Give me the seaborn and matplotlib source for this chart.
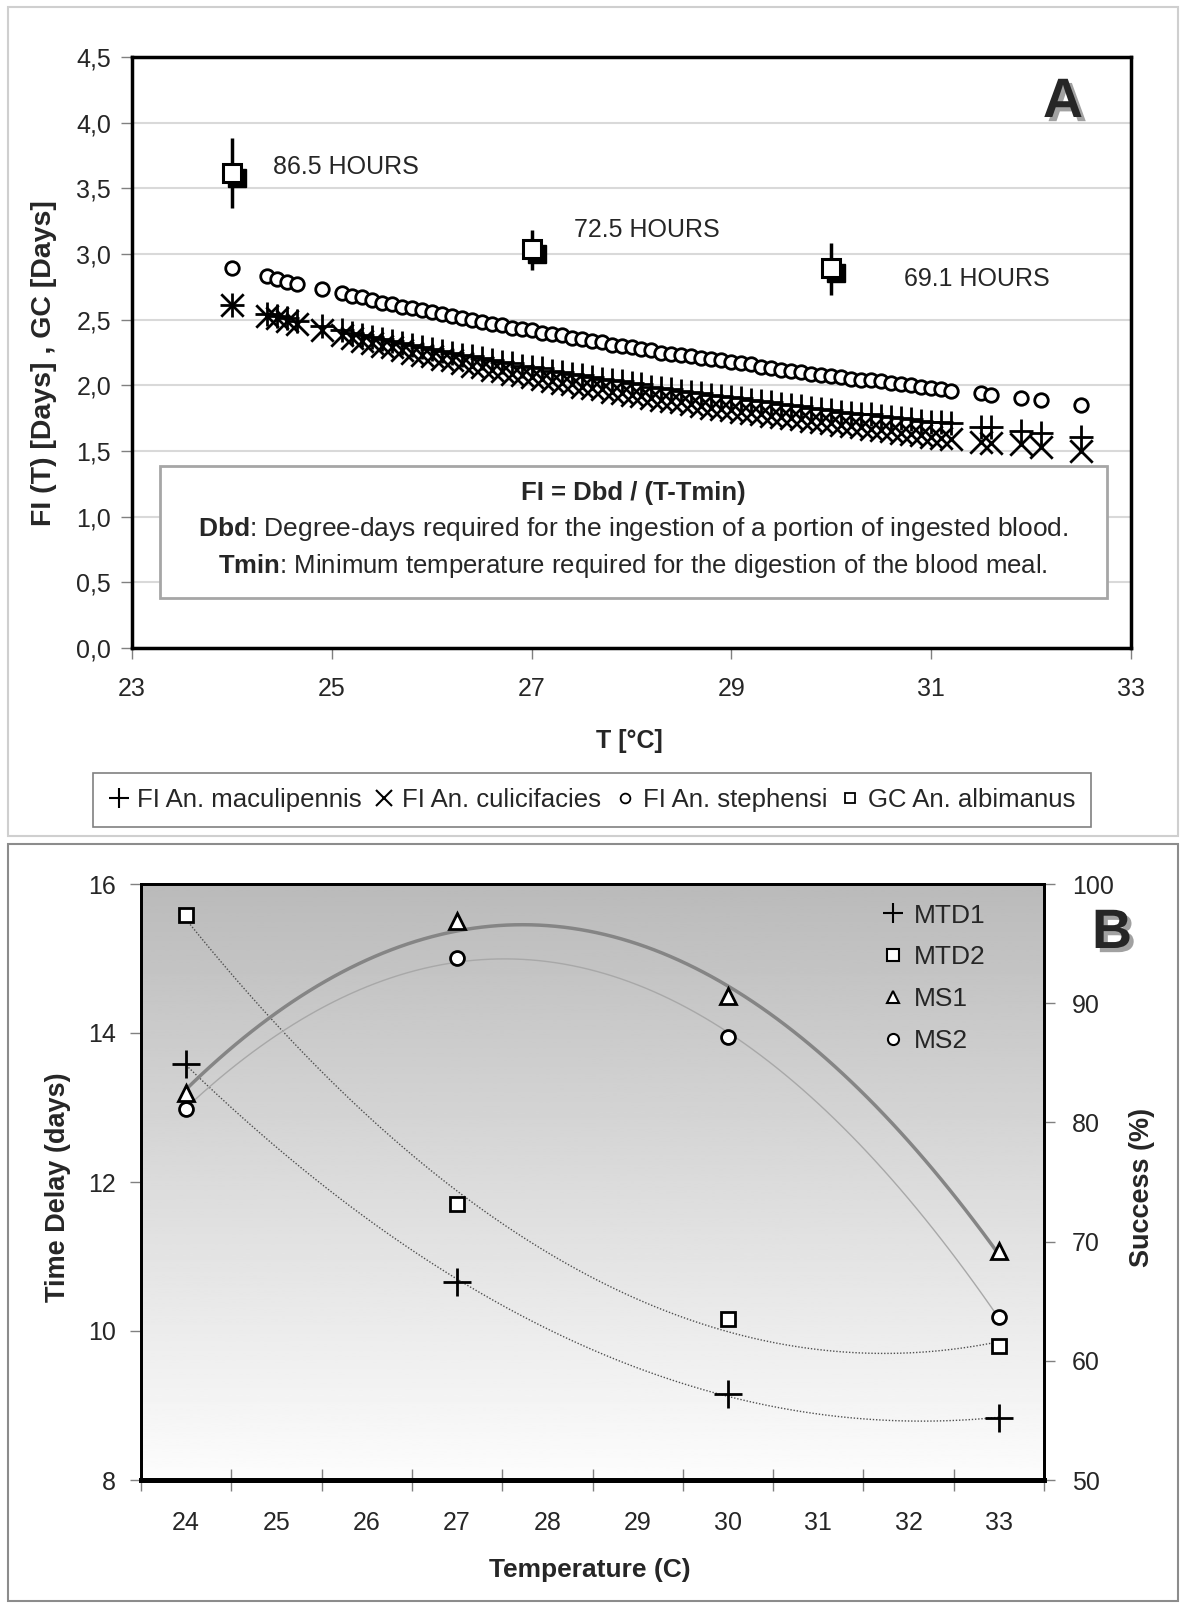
import numpy as np
import matplotlib
matplotlib.use("Agg")
import matplotlib.pyplot as plt
import matplotlib.patheffects as pe
import matplotlib.transforms as mtransforms
from matplotlib.lines import Line2D
from matplotlib.patches import Rectangle
import seaborn as sns

# ---- panel A : feeding interval FI(T) and gonotrophic cycle ----
temp_a = [24.0, 24.35, 24.45, 24.55, 24.65, 24.9,
          25.1, 25.2, 25.3, 25.4, 25.5, 25.6, 25.7, 25.8, 25.9, 26.0,
          26.1, 26.2, 26.3, 26.4, 26.5, 26.6, 26.7, 26.8, 26.9, 27.0,
          27.1, 27.2, 27.3, 27.4, 27.5, 27.6, 27.7, 27.8, 27.9, 28.0,
          28.1, 28.2, 28.3, 28.4, 28.5, 28.6, 28.7, 28.8, 28.9, 29.0,
          29.1, 29.2, 29.3, 29.4, 29.5, 29.6, 29.7, 29.8, 29.9, 30.0,
          30.1, 30.2, 30.3, 30.4, 30.5, 30.6, 30.7, 30.8, 30.9, 31.0,
          31.1, 31.2,
          31.5, 31.6, 31.9, 32.1, 32.5]

fi_stephensi = [2.89, 2.83, 2.81, 2.79, 2.77, 2.73,
                2.70, 2.68, 2.67, 2.65, 2.63, 2.62, 2.60, 2.59, 2.57, 2.56,
                2.54, 2.53, 2.51, 2.50, 2.48, 2.47, 2.46, 2.44, 2.43, 2.42,
                2.40, 2.39, 2.38, 2.36, 2.35, 2.34, 2.33, 2.31, 2.30, 2.29,
                2.28, 2.27, 2.25, 2.24, 2.23, 2.22, 2.21, 2.20, 2.19, 2.18,
                2.17, 2.16, 2.14, 2.13, 2.12, 2.11, 2.10, 2.09, 2.08, 2.07,
                2.06, 2.05, 2.04, 2.04, 2.03, 2.02, 2.01, 2.00, 1.99, 1.98,
                1.97, 1.96,
                1.94, 1.93, 1.90, 1.89, 1.85]

fi_maculipennis = [2.61, 2.54, 2.53, 2.51, 2.49, 2.45,
                   2.42, 2.40, 2.38, 2.37, 2.35, 2.34, 2.32, 2.31, 2.29, 2.28,
                   2.26, 2.25, 2.23, 2.22, 2.21, 2.19, 2.18, 2.17, 2.15, 2.14,
                   2.13, 2.11, 2.10, 2.09, 2.08, 2.06, 2.05, 2.04, 2.03, 2.02,
                   2.01, 1.99, 1.98, 1.97, 1.96, 1.95, 1.94, 1.93, 1.92, 1.91,
                   1.90, 1.89, 1.88, 1.87, 1.86, 1.85, 1.84, 1.83, 1.82, 1.81,
                   1.80, 1.79, 1.78, 1.78, 1.77, 1.76, 1.75, 1.74, 1.73, 1.72,
                   1.72, 1.71,
                   1.68, 1.68, 1.65, 1.64, 1.61]

fi_culicifacies = [2.61, 2.53, 2.51, 2.49, 2.47, 2.42,
                   2.38, 2.36, 2.34, 2.32, 2.30, 2.29, 2.27, 2.25, 2.23, 2.22,
                   2.20, 2.19, 2.17, 2.15, 2.14, 2.12, 2.11, 2.09, 2.08, 2.06,
                   2.05, 2.03, 2.02, 2.01, 1.99, 1.98, 1.97, 1.95, 1.94, 1.93,
                   1.92, 1.90, 1.89, 1.88, 1.87, 1.86, 1.84, 1.83, 1.82, 1.81,
                   1.80, 1.79, 1.78, 1.77, 1.76, 1.75, 1.74, 1.73, 1.72, 1.71,
                   1.70, 1.69, 1.68, 1.67, 1.66, 1.65, 1.64, 1.63, 1.62, 1.61,
                   1.60, 1.59,
                   1.57, 1.56, 1.55, 1.53, 1.50]

gc_temp = [24, 27, 30]
gc_albimanus = [3.62, 3.04, 2.89]
gc_low = [3.35, 2.88, 2.69]
gc_high = [3.88, 3.18, 3.08]
gc_labels = ["86.5 HOURS", "72.5 HOURS", "69.1 HOURS"]
gc_label_pos = [(24.41, 3.66), (27.42, 3.18), (30.73, 2.81)]

legend_a = ["FI An. maculipennis", "FI An. culicifacies", "FI An. stephensi", "GC An. albimanus"]

# ---- panel B : time delay and success ----
temp_b = [24, 27, 30, 33]
mtd1 = [13.58, 10.66, 9.16, 8.83]
mtd2 = [15.58, 11.71, 10.16, 9.80]
ms1 = [82.5, 96.9, 90.6, 69.2]
ms2 = [81.1, 93.8, 87.2, 63.7]
temp_cats = list(range(24, 34))

sns.set_style("white")
plt.rcParams['font.family'] = ['Liberation Sans', 'DejaVu Sans']
plt.rcParams['mathtext.fontset'] = 'custom'
plt.rcParams['mathtext.rm'] = 'Liberation Sans'
plt.rcParams['mathtext.bf'] = 'Liberation Sans:bold'

W, H = 1200, 1618
fig = plt.figure(figsize=(W / 100, H / 100), dpi=100)
fig.patch.set_facecolor('white')

# outer frames
fig.add_artist(Rectangle((8 / W, 1 - 836 / H), 1170 / W, 829 / H, transform=fig.transFigure,
                         fill=False, ec='#cfcfcf', lw=1.5))
fig.add_artist(Rectangle((8 / W, 1 - 1601 / H), 1170 / W, 757 / H, transform=fig.transFigure,
                         fill=False, ec='#8c8c8c', lw=1.5))

# ================= panel A =================
axA = fig.add_axes([132 / W, 1 - 648 / H, 999 / W, 591 / H])
axA.grid(axis='y', color='#d9d9d9', lw=1.5)
axA.set_axisbelow(True)

sns.scatterplot(x=temp_a, y=fi_stephensi, marker='o', s=95, color='white', edgecolor='black',
                linewidth=2, ax=axA, zorder=3)
sns.scatterplot(x=temp_a, y=fi_culicifacies, marker='x', s=260, color='black', linewidth=2,
                ax=axA, zorder=3)
sns.scatterplot(x=temp_a, y=fi_maculipennis, marker='+', s=300, color='black', linewidth=2,
                ax=axA, zorder=3)

axA.vlines(gc_temp, gc_low, gc_high, colors='black', lw=2.5, zorder=4)
shadow = mtransforms.offset_copy(axA.transData, fig=fig, x=5, y=-5, units='dots')
axA.plot(gc_temp, gc_albimanus, 's', ms=13, mfc='black', mec='black', ls='none',
         transform=shadow, zorder=5)
axA.plot(gc_temp, gc_albimanus, 's', ms=13, mfc='white', mec='black', mew=2.2, ls='none', zorder=6)
for lab, (lx, ly) in zip(gc_labels, gc_label_pos):
    axA.text(lx, ly, lab, fontsize=18, ha='left', va='center')

# formula box
axA.add_patch(Rectangle((0.028, 0.0846), 0.948, 0.2234, transform=axA.transAxes,
                        fc='white', ec='#a6a6a6', lw=2, zorder=7))
axA.text(0.5015, 0.262, "FI = Dbd / (T-Tmin)", transform=axA.transAxes, ha='center',
         va='center', fontsize=18.5, fontweight='bold', zorder=8)
axA.text(0.5015, 0.201, r"$\mathbf{Dbd}$: Degree-days required for the ingestion of a portion of ingested blood.",
         transform=axA.transAxes, ha='center', va='center', fontsize=19, zorder=8)
axA.text(0.5015, 0.139, r"$\mathbf{Tmin}$: Minimum temperature required for the digestion of the blood meal.",
         transform=axA.transAxes, ha='center', va='center', fontsize=18.5, zorder=8)

axA.set_xlim(23, 33)
axA.set_ylim(0, 4.5)
axA.set_xticks(np.arange(23, 34, 2))
yt = np.arange(0, 4.51, 0.5)
axA.set_yticks(yt)
axA.set_yticklabels([f"{v:.1f}".replace('.', ',') for v in yt])
axA.tick_params(axis='both', bottom=True, left=True, direction='out', length=8, width=1,
                color='#808080', labelsize=18)
axA.tick_params(axis='x', pad=13)
axA.tick_params(axis='y', pad=7)
for sp in axA.spines.values():
    sp.set_color('black')
    sp.set_linewidth(2.5)
axA.set_xlabel("T [°C]", fontsize=18, fontweight='bold')
axA.xaxis.set_label_coords(0.4975, -0.137)
axA.set_ylabel("FI (T) [Days] , GC [Days]", fontsize=20.5, fontweight='bold')
axA.yaxis.set_label_coords(-0.075, 0.482)

fig.text(1063 / W, 1 - 103 / H, "A", fontsize=40, fontweight='bold', ha='center', va='center',
         path_effects=[pe.withSimplePatchShadow(offset=(3, -3), shadow_rgbFace='#8a8a8a', alpha=0.8)])

handles_a = [
    Line2D([], [], ls='none', marker='+', ms=14, mew=1.5, color='black'),
    Line2D([], [], ls='none', marker='x', ms=11, mew=1.5, color='black'),
    Line2D([], [], ls='none', marker='o', ms=7, mew=1.3, mfc='white', mec='black'),
    Line2D([], [], ls='none', marker='s', ms=7, mew=1.3, mfc='white', mec='black'),
]
leg = fig.legend(handles_a, legend_a, loc='center', bbox_to_anchor=(592 / W, 1 - 800 / H), ncol=4,
                 frameon=True, fancybox=False, edgecolor='#808080', framealpha=1, fontsize=18.5,
                 handlelength=0.8, handletextpad=0.3, columnspacing=0.5, borderpad=0.6)
leg.get_frame().set_linewidth(1.2)

# ================= panel B =================
axB = fig.add_axes([141 / W, 1 - 1480 / H, 903 / W, 596 / H])
grad = np.linspace(0.73, 0.99, 256).reshape(-1, 1)
axB.imshow(grad, extent=[0, 1, 0, 1], origin='upper', transform=axB.transAxes, aspect='auto',
           cmap='gray', vmin=0, vmax=1, zorder=0)

sns.regplot(x=temp_b, y=mtd1, order=2, ci=None, scatter=False, ax=axB,
            line_kws=dict(color='#505050', lw=1, ls=(0, (1, 1.3))))
sns.regplot(x=temp_b, y=mtd2, order=2, ci=None, scatter=False, ax=axB,
            line_kws=dict(color='#505050', lw=1, ls=(0, (1, 1.3))))
axB.plot(temp_b, mtd1, '+', ms=20, mew=2, color='black', zorder=5)
axB.plot(temp_b, mtd2, 's', ms=10, mew=2, mfc='white', mec='black', zorder=5)

axB.set_xlim(23.5, 33.5)
axB.set_ylim(8, 16)
axB.set_yticks(np.arange(8, 16.1, 2))
axB.set_xticks(np.arange(23.5, 33.6, 1))
axB.set_xticklabels([])
axB.set_xticks(temp_cats, minor=True)
axB.set_xticklabels([str(c) for c in temp_cats], minor=True)
axB.tick_params(axis='x', which='major', bottom=True, direction='inout', length=16, width=1,
                color='#808080')
axB.tick_params(axis='x', which='minor', bottom=True, length=0, labelsize=18, pad=22)
axB.tick_params(axis='y', left=True, direction='out', length=8, width=1, color='#808080',
                labelsize=18, pad=10)
axB.set_xlabel("Temperature (C)", fontsize=19, fontweight='bold')
axB.xaxis.set_label_coords(0.497, -0.131)
axB.set_ylabel("Time Delay (days)", fontsize=19.5, fontweight='bold')
axB.yaxis.set_label_coords(-0.0775, 0.4916)

axB2 = axB.twinx()
sns.regplot(x=temp_b, y=ms1, order=2, ci=None, scatter=False, ax=axB2,
            line_kws=dict(color='#858585', lw=2.5))
sns.regplot(x=temp_b, y=ms2, order=2, ci=None, scatter=False, ax=axB2,
            line_kws=dict(color='#a8a8a8', lw=1))
axB2.plot(temp_b, ms1, '^', ms=11, mew=2, mfc='white', mec='black', zorder=5)
axB2.plot(temp_b, ms2, 'o', ms=10, mew=2, mfc='white', mec='black', zorder=5)
axB2.set_ylim(50, 100)
axB2.set_yticks(np.arange(50, 101, 10))
axB2.tick_params(axis='y', right=True, direction='out', length=8, width=1, color='#808080',
                 labelsize=18, pad=12)
axB2.set_xlim(23.5, 33.5)
axB2.set_ylabel("Success (%)", fontsize=19.5, fontweight='bold', rotation=90)
axB2.yaxis.set_label_coords(1.094, 0.4916)

for ax in (axB, axB2):
    for sp in ax.spines.values():
        sp.set_color('black')
        sp.set_linewidth(2)
    ax.spines['bottom'].set_linewidth(3.5)

handles_b = [
    Line2D([], [], ls='none', marker='+', ms=14, mew=1.5, color='black'),
    Line2D([], [], ls='none', marker='s', ms=8, mew=1.5, mfc='white', mec='black'),
    Line2D([], [], ls='none', marker='^', ms=9, mew=1.5, mfc='white', mec='black'),
    Line2D([], [], ls='none', marker='o', ms=8, mew=1.5, mfc='white', mec='black'),
]
axB2.legend(handles_b, ["MTD1", "MTD2", "MS1", "MS2"], loc='upper left',
            bbox_to_anchor=((872 - 141) / 903, (1480 - 893) / 596), frameon=False, fontsize=19,
            handlelength=0.8, handletextpad=0.4, labelspacing=0.68, borderaxespad=0)

fig.text(1112 / W, 1 - 934 / H, "B", fontsize=40, fontweight='bold', ha='center', va='center',
         path_effects=[pe.withSimplePatchShadow(offset=(3, -3), shadow_rgbFace='#8a8a8a', alpha=0.8)])

fig.savefig("out.png", dpi=100, facecolor='white')
